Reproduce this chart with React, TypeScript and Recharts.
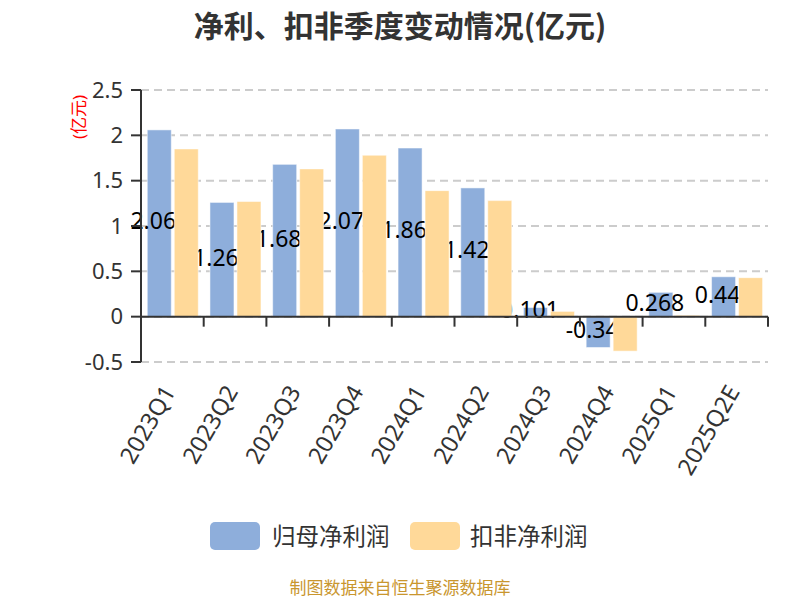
import React from "react"
import { BarChart, Bar, XAxis, YAxis, CartesianGrid, ReferenceLine } from "recharts"

const quarters = ["2023Q1", "2023Q2", "2023Q3", "2023Q4", "2024Q1", "2024Q2", "2024Q3", "2024Q4", "2025Q1", "2025Q2E"]
const netProfit = [2.06, 1.26, 1.68, 2.07, 1.86, 1.42, 0.101, -0.34, 0.268, 0.44]
const deductedProfit = [1.85, 1.27, 1.63, 1.78, 1.39, 1.28, 0.058, -0.38, 0.015, 0.43]
const yTicks = [-0.5, 0, 0.5, 1, 1.5, 2, 2.5]

const BLUE = "#8eaedb"
const ORANGE = "#ffd999"
const FONT = "'Noto Sans', 'Noto Sans CJK SC', sans-serif"

const data = quarters.map((q, i) => ({
  quarter: q,
  net: netProfit[i],
  deducted: deductedProfit[i],
}))

function QuarterTick(props: any) {
  const { x, y, payload } = props
  const ax = x - 4
  const ay = y + 25
  return (
    <text
      x={ax}
      y={ay}
      transform={`rotate(-60, ${ax}, ${ay})`}
      textAnchor="end"
      dominantBaseline="central"
      fontSize={23.5}
      fill="#333"
      fontFamily={FONT}
    >
      {payload.value}
    </text>
  )
}

// blue bar draws its own value label, so the orange bars painted later cover it like in echarts
function NetBar(props: any) {
  const { x, y, width, height, payload } = props
  const top = Math.min(y, y + height)
  const h = Math.abs(height)
  return (
    <g>
      <rect x={x} y={top} width={width} height={h} fill={BLUE} stroke="#fff" strokeOpacity={0.5} />
      <text
        x={x + width / 2 - 6}
        y={top + h / 2 - 3}
        textAnchor="middle"
        dominantBaseline="central"
        fontSize={23}
        fill="#000"
        fontFamily={FONT}
      >
        {payload.net}
      </text>
    </g>
  )
}

// zero line with the category boundary ticks hanging below it
function ZeroAxis(props: any) {
  const { x1, y1, x2 } = props
  const step = (x2 - x1) / quarters.length
  return (
    <g>
      <line x1={x1} y1={y1} x2={x2} y2={y1} stroke="#333" strokeWidth={2} />
      {quarters.map((q, i) => (
        <line key={q} x1={x1 + step * (i + 1)} y1={y1} x2={x1 + step * (i + 1)} y2={y1 + 10} stroke="#333" strokeWidth={2} />
      ))}
    </g>
  )
}

export default function App() {
  return (
    <div style={{ position: "absolute", left: 0, top: 0, width: 800, height: 600, background: "#fff", fontFamily: FONT }}>
      <div style={{ position: "absolute", top: 4, left: 0, width: 800, textAlign: "center", fontSize: 30, lineHeight: "40px", fontWeight: 700, color: "#333", fontFamily: "'Noto Sans CJK SC', sans-serif" }}>
        净利、扣非季度变动情况(亿元)
      </div>
      <BarChart
        width={800}
        height={600}
        data={data}
        margin={{ top: 90, right: 32, left: 0, bottom: 138 }}
        barCategoryGap="10%"
        barGap={3}
      >
        <CartesianGrid vertical={false} stroke="#ccc" strokeWidth={2} strokeDasharray="8 5" />
        <XAxis
          dataKey="quarter"
          interval={0}
          axisLine={false}
          tickLine={false}
          tickSize={0}
          tickMargin={0}
          height={100}
          tick={<QuarterTick />}
        />
        <YAxis
          width={141}
          domain={[-0.5, 2.5]}
          ticks={yTicks}
          interval={0}
          axisLine={{ stroke: "#333", strokeWidth: 2 }}
          tickLine={{ stroke: "#333", strokeWidth: 2 }}
          tickSize={10}
          tickMargin={8}
          tick={{ fontSize: 22, fill: "#333", fontFamily: FONT }}
          label={{ value: "(亿元)", angle: -90, position: "insideTopLeft", dx: 68, dy: 44, fill: "#ff0000", fontSize: 17 }}
        />
        <Bar dataKey="net" name="归母净利润" fill={BLUE} shape={<NetBar />} isAnimationActive={false} />
        <Bar dataKey="deducted" name="扣非净利润" fill={ORANGE} stroke="#fff" strokeOpacity={0.5} isAnimationActive={false} />
        <ReferenceLine y={0} shape={<ZeroAxis />} />
      </BarChart>
      <div style={{ position: "absolute", left: 210, top: 522, width: 50, height: 28, borderRadius: 5, background: BLUE }} />
      <div style={{ position: "absolute", left: 272, top: 520, lineHeight: "32px", fontSize: 23.5, color: "#333" }}>归母净利润</div>
      <div style={{ position: "absolute", left: 410, top: 522, width: 50, height: 28, borderRadius: 5, background: ORANGE }} />
      <div style={{ position: "absolute", left: 470, top: 520, lineHeight: "32px", fontSize: 23.5, color: "#333" }}>扣非净利润</div>
      <div style={{ position: "absolute", top: 578, left: 0, width: 800, textAlign: "center", fontSize: 17, lineHeight: "20px", color: "#c9962e" }}>
        制图数据来自恒生聚源数据库
      </div>
    </div>
  )
}
